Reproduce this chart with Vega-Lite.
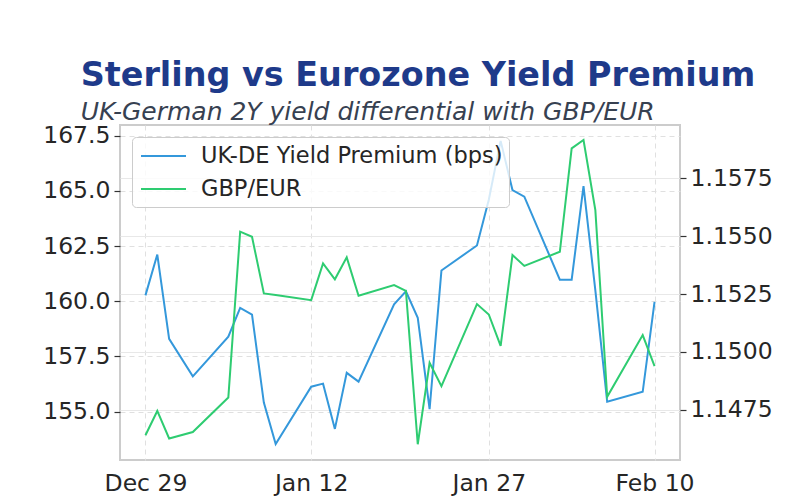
{
  "$schema": "https://vega.github.io/schema/vega-lite/v6.json",
  "width": 560,
  "height": 335,
  "autosize": {"type": "none"},
  "padding": {"left": 120, "top": 125, "right": 120, "bottom": 40},
  "background": "white",
  "title": {
    "text": "Sterling vs Eurozone Yield Premium",
    "subtitle": "UK-German 2Y yield differential with GBP/EUR",
    "anchor": "start",
    "dx": 38,
    "offset": -2,
    "font": "DejaVu Sans",
    "fontSize": 33.4,
    "fontWeight": "bold",
    "color": "#1e3a8a",
    "subtitleFont": "DejaVu Sans",
    "subtitleFontSize": 25,
    "subtitleFontStyle": "italic",
    "subtitleColor": "#374151",
    "subtitlePadding": 6
  },
  "config": {
    "font": "DejaVu Sans",
    "view": {"stroke": "#cccccc", "strokeWidth": 2}
  },
  "data": {
    "values": [
      {"date": "2025-12-29", "premium": 160.27, "gbpeur": 1.14640},
      {"date": "2025-12-30", "premium": 162.12, "gbpeur": 1.14745},
      {"date": "2025-12-31", "premium": 158.30, "gbpeur": 1.14626},
      {"date": "2026-01-02", "premium": 156.60, "gbpeur": 1.14654},
      {"date": "2026-01-05", "premium": 158.40, "gbpeur": 1.14803},
      {"date": "2026-01-06", "premium": 159.70, "gbpeur": 1.15520},
      {"date": "2026-01-07", "premium": 159.40, "gbpeur": 1.15498},
      {"date": "2026-01-08", "premium": 155.41, "gbpeur": 1.15253},
      {"date": "2026-01-09", "premium": 153.53, "gbpeur": 1.15246},
      {"date": "2026-01-12", "premium": 156.13, "gbpeur": 1.15224},
      {"date": "2026-01-13", "premium": 156.27, "gbpeur": 1.15383},
      {"date": "2026-01-14", "premium": 154.22, "gbpeur": 1.15314},
      {"date": "2026-01-15", "premium": 156.76, "gbpeur": 1.15409},
      {"date": "2026-01-16", "premium": 156.36, "gbpeur": 1.15243},
      {"date": "2026-01-19", "premium": 159.86, "gbpeur": 1.15289},
      {"date": "2026-01-20", "premium": 160.45, "gbpeur": 1.15264},
      {"date": "2026-01-21", "premium": 159.25, "gbpeur": 1.14601},
      {"date": "2026-01-22", "premium": 155.11, "gbpeur": 1.14953},
      {"date": "2026-01-23", "premium": 161.40, "gbpeur": 1.14852},
      {"date": "2026-01-26", "premium": 162.53, "gbpeur": 1.15207},
      {"date": "2026-01-27", "premium": 164.60, "gbpeur": 1.15162},
      {"date": "2026-01-28", "premium": 167.27, "gbpeur": 1.15026},
      {"date": "2026-01-29", "premium": 165.04, "gbpeur": 1.15419},
      {"date": "2026-01-30", "premium": 164.74, "gbpeur": 1.15372},
      {"date": "2026-02-02", "premium": 160.98, "gbpeur": 1.15433},
      {"date": "2026-02-03", "premium": 160.98, "gbpeur": 1.15880},
      {"date": "2026-02-04", "premium": 165.22, "gbpeur": 1.15916},
      {"date": "2026-02-05", "premium": 160.50, "gbpeur": 1.15613},
      {"date": "2026-02-06", "premium": 155.45, "gbpeur": 1.14806},
      {"date": "2026-02-09", "premium": 155.90, "gbpeur": 1.15073},
      {"date": "2026-02-10", "premium": 159.97, "gbpeur": 1.14939}
    ]
  },
  "encoding": {
    "x": {
      "field": "date",
      "type": "temporal",
      "scale": {
        "type": "utc",
        "domain": [
          {"year": 2025, "month": 12, "date": 26, "hours": 20, "minutes": 24, "utc": true},
          {"year": 2026, "month": 2, "date": 12, "hours": 3, "minutes": 36, "utc": true}
        ]
      },
      "axis": {
        "title": null,
        "values": [
          {"year": 2025, "month": 12, "date": 29, "utc": true},
          {"year": 2026, "month": 1, "date": 12, "utc": true},
          {"year": 2026, "month": 1, "date": 27, "utc": true},
          {"year": 2026, "month": 2, "date": 10, "utc": true}
        ],
        "labelExpr": "utcFormat(datum.value, '%b %d')",
        "domain": false,
        "ticks": false,
        "labelPadding": 11,
        "labelFontSize": 23.5,
        "labelColor": "#262626",
        "labelFlush": false,
        "grid": true,
        "gridDash": [5, 4],
        "gridColor": "#e0e0e0",
        "gridWidth": 1
      }
    }
  },
  "layer": [
    {
      "mark": {"type": "line", "strokeWidth": 2},
      "encoding": {
        "y": {
          "field": "premium",
          "type": "quantitative",
          "scale": {"domain": [152.81, 167.99], "zero": false, "nice": false},
          "axis": {
            "title": null,
            "orient": "left",
            "values": [155, 157.5, 160, 162.5, 165, 167.5],
            "format": ".1f",
            "domain": false,
            "tickColor": "#333333",
            "tickSize": 6,
            "tickWidth": 1.2,
            "labelPadding": 4,
            "labelFontSize": 23.5,
            "labelColor": "#262626",
            "grid": true,
            "gridDash": [5, 4],
            "gridColor": "#e0e0e0",
            "gridWidth": 1
          }
        },
        "color": {
          "datum": "UK-DE Yield Premium (bps)",
          "type": "nominal",
          "scale": {
            "domain": ["UK-DE Yield Premium (bps)", "GBP/EUR"],
            "range": ["#3498db", "#2ecc71"]
          },
          "legend": {
            "title": null,
            "orient": "top-left",
            "offset": 12,
            "padding": 6,
            "fillColor": "rgba(255,255,255,0.8)",
            "strokeColor": "#cccccc",
            "cornerRadius": 4,
            "symbolType": "M-1.875,0H1.875",
            "symbolSize": 576,
            "symbolOffset": 12.5,
            "symbolStrokeWidth": 2,
            "labelFontSize": 22.5,
            "labelColor": "#262626",
            "labelOffset": 24.5,
            "labelLimit": 500,
            "rowPadding": 8
          }
        }
      }
    },
    {
      "mark": {"type": "line", "strokeWidth": 2},
      "encoding": {
        "y": {
          "field": "gbpeur",
          "type": "quantitative",
          "scale": {"domain": [1.14533, 1.15981], "zero": false, "nice": false},
          "axis": {
            "title": null,
            "orient": "right",
            "values": [1.1475, 1.15, 1.1525, 1.155, 1.1575],
            "format": ".4f",
            "domain": false,
            "tickColor": "#333333",
            "tickSize": 6,
            "tickWidth": 1.2,
            "labelPadding": 4,
            "labelFontSize": 23.5,
            "labelColor": "#262626",
            "grid": true,
            "gridColor": "#e8e8e8",
            "gridWidth": 1
          }
        },
        "color": {"datum": "GBP/EUR", "type": "nominal"}
      }
    }
  ],
  "resolve": {"scale": {"y": "independent"}}
}
